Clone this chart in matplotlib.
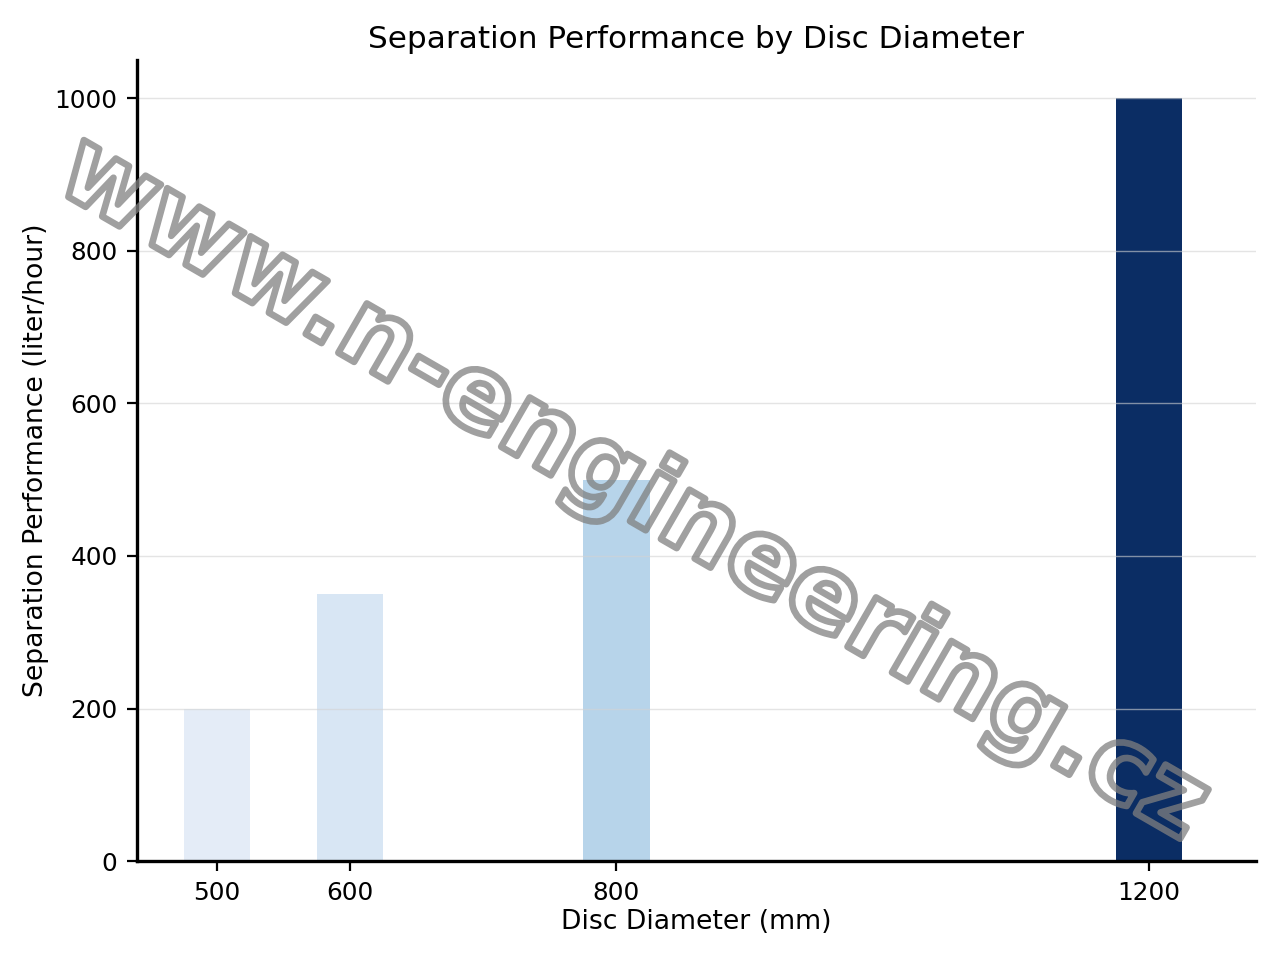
import matplotlib
matplotlib.use('Agg')
import matplotlib.pyplot as plt
import matplotlib.patheffects as pe

# data
diameters = [500, 600, 800, 1200]
performance = [200, 350, 500, 1000]
bar_colors = ['#e4ecf7', '#d8e6f4', '#b7d4ea', '#0b2d64']

fig, ax = plt.subplots(figsize=(6.4, 4.8), dpi=200)
fig.subplots_adjust(left=0.107, right=0.981, bottom=0.103, top=0.9375)

ax.bar(diameters, performance, width=50, color=bar_colors)

ax.set_xticks(diameters)
ax.set_xlim(440, 1280)
ax.set_ylim(0, 1050)
ax.set_xlabel('Disc Diameter (mm)', fontsize=9.6, labelpad=1.5)
ax.set_ylabel('Separation Performance (liter/hour)', fontsize=9.6, labelpad=2)
ax.set_title('Separation Performance by Disc Diameter', fontsize=11.2, pad=4.5)
ax.tick_params(labelsize=8.9)

ax.yaxis.grid(True, color='lightgray', alpha=0.6, linewidth=0.5)
ax.spines['top'].set_visible(False)
ax.spines['right'].set_visible(False)
ax.spines['left'].set_linewidth(1.2)
ax.spines['bottom'].set_linewidth(1.2)

# watermark
fig.text(0.494, 0.49, 'www.n-engineering.cz', fontsize=37.5, fontweight='bold',
         color='none', rotation=-30, ha='center', va='center', zorder=10,
         path_effects=[pe.withStroke(linewidth=2.4, foreground=(0.5, 0.5, 0.5, 0.75))])

plt.savefig('out.png')
